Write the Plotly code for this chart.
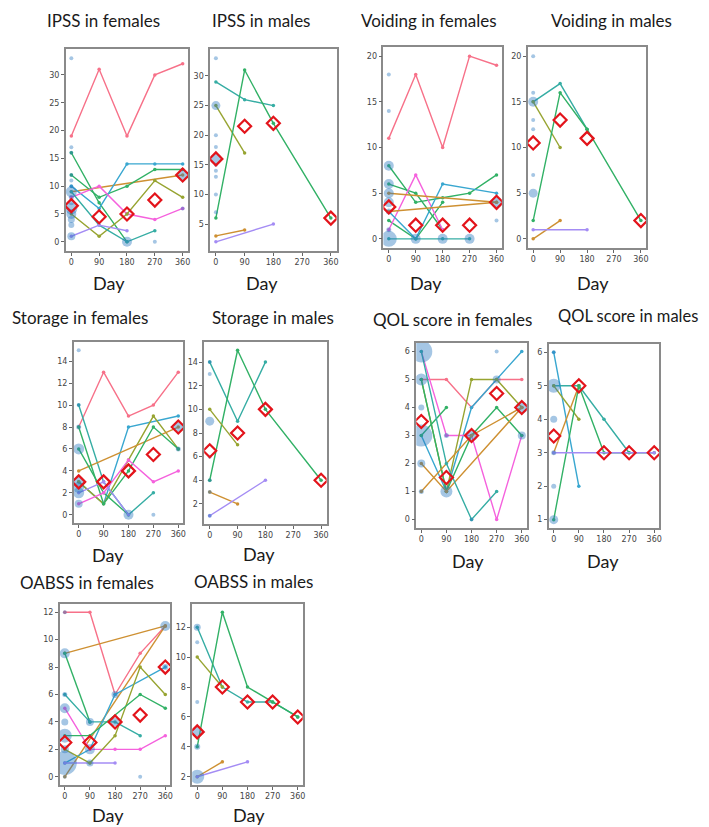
import plotly.graph_objects as go

W, H = 709, 827
COLORS = {'pink': '#f77189', 'orange': '#ce9032', 'olive': '#97a431', 'green': '#32b166',
          'teal': '#36ada4', 'blue': '#39a7d0', 'purple': '#a48cf4', 'magenta': '#f561dd'}
DAYS = [0, 90, 180, 270, 360]
DAY_LABELS = ['0', '90', '180', '270', '360']

# ---------------- data ----------------
IPSS_F_LINES = [
    ('pink', [0, 90, 180, 270, 360], [19, 31, 19, 30, 32]),
    ('orange', [0, 360], [9, 12]),
    ('green', [0, 90, 180], [16, 7, 0]),
    ('green', [0, 90, 180, 270, 360], [12, 8, 10, 13, 13]),
    ('blue', [0, 90, 180, 270, 360], [10, 6, 14, 14, 14]),
    ('magenta', [0, 90, 180, 270, 360], [8, 10, 5, 4, 6]),
    ('olive', [0, 90, 180, 270, 360], [5, 1, 5, 11, 8]),
    ('teal', [0, 90, 180, 270], [9, 3, 0, 2]),
    ('purple', [0, 90, 180], [1, 3, 2]),
]
IPSS_F_DOT_X = [0] * 14 + [180, 270, 360, 360]
IPSS_F_DOT_Y = [33, 17, 16, 12, 11, 10, 9, 8, 7, 6, 5, 4, 3, 1, 0, 0, 12, 6]
IPSS_F_DOT_S = [4, 4, 4, 4, 4, 4, 11, 5, 5, 12, 10, 7, 6, 8, 10, 4, 10, 4]
IPSS_F_MEAN = [6.5, 4.5, 5, 7.5, 12]

IPSS_M_LINES = [
    ('teal', [0, 90, 180], [29, 26, 25]),
    ('olive', [0, 90], [25, 17]),
    ('green', [0, 90, 180, 360], [6, 31, 22, 6]),
    ('orange', [0, 90], [3, 4]),
    ('purple', [0, 180], [2, 5]),
]
IPSS_M_DOT_X = [0] * 10
IPSS_M_DOT_Y = [33, 25, 20, 18, 16, 15, 14, 13, 10, 7]
IPSS_M_DOT_S = [4, 9, 4, 4, 11, 4, 4, 4, 4, 4]
IPSS_M_MEAN = [16, 21.5, 22, None, 6]

VOID_F_LINES = [
    ('pink', [0, 90, 180, 270, 360], [11, 18, 10, 20, 19]),
    ('green', [0, 90, 180, 270, 360], [8, 4, 4.5, 5, 7]),
    ('green', [0, 90, 180], [6, 5, 1]),
    ('green', [0, 90, 180], [2, 0, 4]),
    ('magenta', [0, 90, 180], [1, 7, 1]),
    ('blue', [0, 90, 180, 360], [3, 0, 6, 5]),
    ('orange', [0, 360], [5, 4]),
    ('orange', [0, 360], [3, 4]),
    ('teal', [0, 90, 180, 270], [0, 0, 0, 0]),
]
VOID_F_DOT_X = [0] * 9 + [90, 180, 270, 360, 360]
VOID_F_DOT_Y = [18, 14, 8, 6, 5, 4, 3, 1, 0, 0, 0, 0, 4, 2]
VOID_F_DOT_S = [4, 4, 10, 10, 10, 10, 6, 5, 16, 10, 10, 10, 10, 4]
VOID_F_MEAN = [3.5, 1.5, 1.5, 1.5, 4]

VOID_M_LINES = [
    ('teal', [0, 90, 180], [15, 17, 12]),
    ('olive', [0, 90], [15, 10]),
    ('green', [0, 90, 180, 360], [2, 16, 12, 2]),
    ('orange', [0, 90], [0, 2]),
    ('purple', [0, 180], [1, 1]),
]
VOID_M_DOT_X = [0] * 7
VOID_M_DOT_Y = [20, 16, 15, 13, 12, 7, 5]
VOID_M_DOT_S = [4, 4, 10, 4, 4, 4, 9]
VOID_M_MEAN = [10.5, 13, 11, None, 2]

STOR_F_LINES = [
    ('pink', [0, 90, 180, 270, 360], [8, 13, 9, 10, 13]),
    ('teal', [0, 90, 180, 270], [10, 3, 0, 2]),
    ('blue', [0, 90, 180, 360], [3, 1, 8, 9]),
    ('olive', [0, 90, 180, 270, 360], [3, 1, 5, 9, 6]),
    ('orange', [0, 360], [4, 8]),
    ('green', [0, 90, 180, 270, 360], [8, 1, 4, 8, 6]),
    ('green', [0, 90, 180], [6, 2, 0]),
    ('magenta', [0, 90, 180, 270, 360], [1, 2, 5, 3, 4]),
    ('purple', [0, 90, 180], [2, 3, 0]),
]
STOR_F_DOT_X = [0] * 8 + [180, 270, 360, 360]
STOR_F_DOT_Y = [15, 10, 8, 6, 3, 2.5, 2, 1, 0, 0, 8, 6]
STOR_F_DOT_S = [4, 4, 5, 11, 11, 11, 11, 8, 10, 4, 10, 5]
STOR_F_MEAN = [3, 3, 4, 5.5, 8]

STOR_M_LINES = [
    ('teal', [0, 90, 180], [14, 9, 14]),
    ('green', [0, 90, 180, 360], [4, 15, 10, 4]),
    ('olive', [0, 90], [10, 7]),
    ('orange', [0, 90], [3, 2]),
    ('purple', [0, 180], [1, 4]),
]
STOR_M_DOT_X = [0] * 7
STOR_M_DOT_Y = [14, 13, 9, 6, 4, 3, 1]
STOR_M_DOT_S = [4, 4, 9, 4, 4, 4, 4]
STOR_M_MEAN = [6.5, 8, 10, None, 4]

QOL_F_LINES = [
    ('pink', [0, 90, 180, 270, 360], [5, 5, 4, 5, 5]),
    ('blue', [0, 90, 180, 270, 360], [3, 1, 4, 5, 6]),
    ('magenta', [0, 90, 180, 270, 360], [6, 3, 3, 0, 3]),
    ('olive', [0, 90, 180, 270, 360], [5, 1, 5, 5, 4]),
    ('green', [0, 90], [3, 4]),
    ('green', [0, 90, 180, 270, 360], [5, 1, 3, 4, 3]),
    ('orange', [0, 90, 360], [2, 1, 4]),
    ('orange', [0, 180, 360], [1, 3, 4]),
    ('teal', [0, 90, 180, 270], [6, 2, 0, 1]),
]
QOL_F_DOT_X = [0] * 6 + [90, 90, 180, 180, 270, 270, 360, 360]
QOL_F_DOT_Y = [6, 5, 4, 3, 2, 1, 1, 3, 3, 0, 6, 5, 4, 3]
QOL_F_DOT_S = [22, 12, 6, 22, 8, 5, 12, 5, 12, 4, 4, 8, 12, 8]
QOL_F_MEAN = [3.5, 1.5, 3, 4.5, 4]

QOL_M_LINES = [
    ('blue', [0, 90], [6, 2]),
    ('teal', [0, 90, 180, 270], [5, 5, 4, 3]),
    ('olive', [0, 90], [5, 4]),
    ('orange', [0, 90], [3, 5]),
    ('green', [0, 90, 180, 270, 360], [1, 5, 3, 3, 3]),
    ('purple', [0, 360], [3, 3]),
]
QOL_M_DOT_X = [0] * 6
QOL_M_DOT_Y = [6, 5, 4, 3, 2, 1]
QOL_M_DOT_S = [4, 14, 7, 5, 5, 9]
QOL_M_MEAN = [3.5, 5, 3, 3, 3]

OAB_F_LINES = [
    ('pink', [0, 90, 180, 270, 360], [12, 12, 6, 9, 11]),
    ('orange', [0, 360], [9, 11]),
    ('orange', [0, 360], [0, 11]),
    ('green', [0, 90], [9, 4]),
    ('teal', [0, 90, 180, 270], [6, 4, 4, 3]),
    ('blue', [0, 90, 180, 360], [1, 2, 6, 8]),
    ('magenta', [0, 90, 180, 270, 360], [5, 2, 2, 2, 3]),
    ('purple', [0, 90, 180], [1, 1, 1]),
    ('olive', [0, 90, 180, 270, 360], [2, 1, 3, 8, 6]),
    ('green', [0, 90, 270, 360], [3, 3, 6, 5]),
]
OAB_F_DOT_X = [0] * 9 + [90, 90, 90, 180, 180, 270, 360, 360]
OAB_F_DOT_Y = [12, 9, 6, 5, 4, 3, 2, 1, 0, 4, 2, 1, 4, 6, 0, 11, 8]
OAB_F_DOT_S = [4, 10, 5, 10, 7, 14, 8, 24, 4, 8, 10, 7, 8, 7, 4, 10, 6]
OAB_F_MEAN = [2.5, 2.5, 4, 4.5, 8]

OAB_M_LINES = [
    ('teal', [0, 90, 180, 270, 360], [12, 8, 7, 7, 6]),
    ('green', [0, 90, 180, 270, 360], [4, 13, 8, 7, 6]),
    ('olive', [0, 90], [10, 8]),
    ('orange', [0, 90], [2, 3]),
    ('purple', [0, 180], [2, 3]),
]
OAB_M_DOT_X = [0] * 6
OAB_M_DOT_Y = [12, 11, 7, 5, 4, 2]
OAB_M_DOT_S = [7, 4, 4, 10, 6, 14]
OAB_M_MEAN = [5, 8, 7, 7, 6]

TITLES = ['IPSS in females', 'IPSS in males', 'Voiding in females', 'Voiding in males',
          'Storage in females', 'Storage in males', 'QOL score in females', 'QOL score in males',
          'OABSS in females', 'OABSS in males']
Y_TICKS = [[0, 5, 10, 15, 20, 25, 30], [5, 10, 15, 20, 25, 30],
           [0, 5, 10, 15, 20], [0, 5, 10, 15, 20],
           [0, 2, 4, 6, 8, 10, 12, 14], [2, 4, 6, 8, 10, 12, 14],
           [0, 1, 2, 3, 4, 5, 6], [1, 2, 3, 4, 5, 6],
           [0, 2, 4, 6, 8, 10, 12], [2, 4, 6, 8, 10, 12]]

DATA = [
    (IPSS_F_LINES, IPSS_F_DOT_X, IPSS_F_DOT_Y, IPSS_F_DOT_S, IPSS_F_MEAN),
    (IPSS_M_LINES, IPSS_M_DOT_X, IPSS_M_DOT_Y, IPSS_M_DOT_S, IPSS_M_MEAN),
    (VOID_F_LINES, VOID_F_DOT_X, VOID_F_DOT_Y, VOID_F_DOT_S, VOID_F_MEAN),
    (VOID_M_LINES, VOID_M_DOT_X, VOID_M_DOT_Y, VOID_M_DOT_S, VOID_M_MEAN),
    (STOR_F_LINES, STOR_F_DOT_X, STOR_F_DOT_Y, STOR_F_DOT_S, STOR_F_MEAN),
    (STOR_M_LINES, STOR_M_DOT_X, STOR_M_DOT_Y, STOR_M_DOT_S, STOR_M_MEAN),
    (QOL_F_LINES, QOL_F_DOT_X, QOL_F_DOT_Y, QOL_F_DOT_S, QOL_F_MEAN),
    (QOL_M_LINES, QOL_M_DOT_X, QOL_M_DOT_Y, QOL_M_DOT_S, QOL_M_MEAN),
    (OAB_F_LINES, OAB_F_DOT_X, OAB_F_DOT_Y, OAB_F_DOT_S, OAB_F_MEAN),
    (OAB_M_LINES, OAB_M_DOT_X, OAB_M_DOT_Y, OAB_M_DOT_S, OAB_M_MEAN),
]

# ---------------- layout (pixel geometry) ----------------
# frame: left, right, top, bottom ; y range
FRAMES = [
    (58, 181, 41, 243, [-1.65, 34.65]),
    (203, 330, 41, 243, [0.45, 34.55]),
    (377, 496, 39, 240, [-1, 21]),
    (522, 641, 39, 240, [-1, 21]),
    (66, 176, 334, 515, [-0.75, 15.75]),
    (197, 320, 334, 516, [0.3, 15.7]),
    (410, 521, 335, 520, [-0.3, 6.3]),
    (543, 654, 336, 520, [0.75, 6.25]),
    (52, 163, 596, 777, [-0.6, 12.6]),
    (185, 296, 596, 777, [1.45, 13.55]),
]
TITLE_POS = [(37, 12), (203, 12), (352, 12), (543, 12),
             (2, 309), (203, 309), (365, 311), (550, 308),
             (10, 574), (185, 573)]
TITLE_SIZE = [17, 17, 17, 17, 17, 17, 17, 16.5, 17, 17]
DAY_POS = [(101, 275), (255, 275), (420, 275), (587, 275),
           (100, 547), (252, 546), (462, 553), (598, 553),
           (100, 807), (242, 807)]

fig = go.Figure()
layout = dict(width=W, height=H, margin=dict(l=0, r=0, t=0, b=0),
              paper_bgcolor='white', plot_bgcolor='white', showlegend=False)
annotations = []

DOT_COLOR = 'rgba(40,120,190,0.6)'
FONT_TXT = 'Lato, Liberation Sans, Arial, sans-serif'

for i, (lines, dx, dy, ds, mean) in enumerate(DATA):
    k = '' if i == 0 else str(i + 1)
    l, r, t, b, yr = FRAMES[i]
    axcommon = dict(showline=True, mirror=True, linecolor='#8a8a8a', linewidth=1.5,
                    showgrid=False, zeroline=False, ticks='outside', ticklen=3,
                    tickwidth=1, tickcolor='#666',
                    tickfont=dict(family='DejaVu Sans', size=8, color='#444'))
    layout['xaxis' + k] = dict(domain=[l / W, r / W], anchor='y' + k, range=[-18, 378],
                               tickvals=DAYS, ticktext=DAY_LABELS, **axcommon)
    layout['yaxis' + k] = dict(domain=[1 - b / H, 1 - t / H], anchor='x' + k, range=yr,
                               tickvals=Y_TICKS[i], **axcommon)
    xa, ya = 'x' + k, 'y' + k
    for cname, xs, ys in lines:
        fig.add_trace(go.Scatter(x=xs, y=ys, mode='lines+markers', xaxis=xa, yaxis=ya,
                                 line=dict(color=COLORS[cname], width=1.4),
                                 marker=dict(size=3.5, color=COLORS[cname]),
                                 hoverinfo='skip'))
    fig.add_trace(go.Scatter(x=dx, y=dy, mode='markers', xaxis=xa, yaxis=ya,
                             marker=dict(size=ds, color=DOT_COLOR, line=dict(width=0)),
                             hoverinfo='skip'))
    fig.add_trace(go.Scatter(x=DAYS, y=mean, mode='markers', xaxis=xa, yaxis=ya,
                             marker=dict(symbol='diamond-open', size=10, color='#e3141b',
                                         line=dict(width=2.2, color='#e3141b')),
                             hoverinfo='skip'))
    tx, ty = TITLE_POS[i]
    annotations.append(dict(text=TITLES[i], x=tx / W, y=1 - ty / H, xref='paper', yref='paper',
                            xanchor='left', yanchor='middle', showarrow=False,
                            font=dict(family=FONT_TXT, size=TITLE_SIZE[i], color='#1a1a1a')))
    qx, qy = DAY_POS[i]
    annotations.append(dict(text='Day', x=qx / W, y=1 - qy / H, xref='paper', yref='paper',
                            xanchor='center', yanchor='middle', showarrow=False,
                            font=dict(family=FONT_TXT, size=18, color='#1a1a1a')))

layout['annotations'] = annotations
fig.update_layout(**layout)
fig.write_html('out.html')
